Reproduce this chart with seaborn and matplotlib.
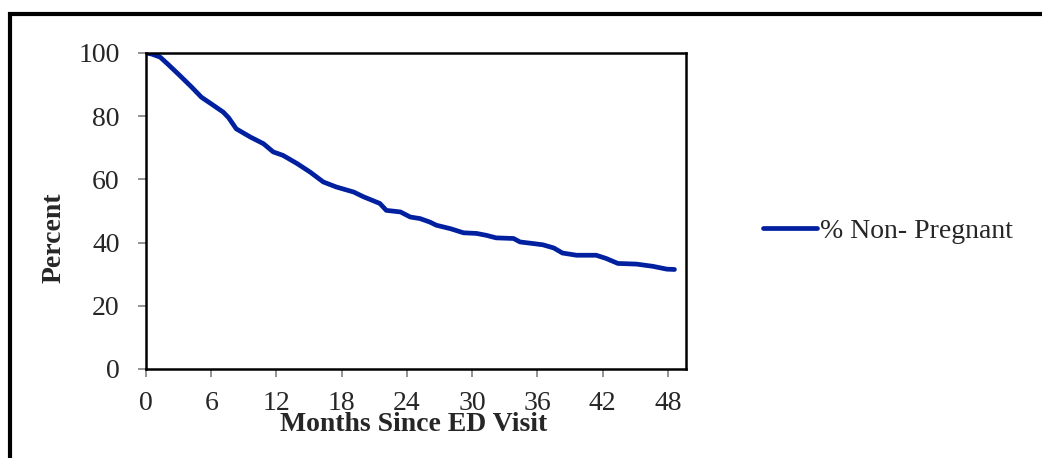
import matplotlib
matplotlib.use("Agg")
import matplotlib.pyplot as plt
import matplotlib.lines as mlines
import seaborn as sns
import pandas as pd

months = [0, 0.5, 1.3, 2, 3.1, 4.2, 5.1, 6.0, 7.1, 7.6, 8.3, 9.6, 10.8, 11.7, 12.6,
          13.9, 15.1, 16.3, 17.5, 19.1, 20.0, 21.5, 22.1, 23.4, 24.3, 25.2, 26.1,
          26.7, 28.0, 29.2, 30.4, 31.3, 32.2, 33.8, 34.4, 35.6, 36.5, 37.5, 38.3,
          39.6, 41.4, 42.3, 43.4, 45.1, 46.6, 47.9, 48.6]
percent = [100, 99.7, 98.7, 96.5, 92.9, 89.2, 86.0, 83.9, 81.3, 79.5, 76.0, 73.4,
           71.3, 68.7, 67.6, 65.0, 62.3, 59.2, 57.6, 56.0, 54.5, 52.4, 50.2, 49.7,
           48.1, 47.6, 46.5, 45.5, 44.4, 43.1, 42.9, 42.3, 41.5, 41.3, 40.2, 39.7,
           39.3, 38.3, 36.7, 36.0, 36.0, 35.0, 33.4, 33.2, 32.5, 31.6, 31.5]
x_ticks = [0, 6, 12, 18, 24, 30, 36, 42, 48]
y_ticks = [0, 20, 40, 60, 80, 100]
series_label = "% Non- Pregnant"
x_label = "Months Since ED Visit"
y_label = "Percent"

sns.set_style("white")
plt.rcParams["font.family"] = ["Liberation Serif", "DejaVu Serif"]

df = pd.DataFrame({"month": months, "pct": percent})

fig = plt.figure(figsize=(10.42, 4.58), dpi=100)
ax = fig.add_axes([146/1042, 1-369/458, (686-146)/1042, (369-53)/458])
color = "#0020A0"
sns.lineplot(data=df, x="month", y="pct", sort=False, ax=ax, color=color,
             linewidth=3.4, solid_capstyle="round", solid_joinstyle="round")

ax.set_xlim(0, 49.66)
ax.set_ylim(0, 100)
ax.set_xticks(x_ticks)
ax.set_yticks(y_ticks)
ax.tick_params(axis="both", direction="out", length=6, width=1.2, color="#808080",
               labelsize=20, bottom=True, left=True)
ax.tick_params(axis="x", pad=10)
ax.tick_params(axis="y", pad=13)
for s in ax.spines.values():
    s.set_visible(True)
    s.set_color("black")
    s.set_linewidth(1.8)

ax.set_xlabel(x_label, fontsize=20, fontweight="bold")
ax.xaxis.set_label_coords(0.496, -0.136)
ax.set_ylabel(y_label, fontsize=20, fontweight="bold")
ax.yaxis.set_label_coords(-0.148, 0.415)

handle = mlines.Line2D([], [], color=color, linewidth=3.4, solid_capstyle="round")
fig.legend([handle], [series_label], loc="center left",
           bbox_to_anchor=(763/1042, 1-231/458), frameon=False, fontsize=20,
           handlelength=1.95, handletextpad=0.12, borderaxespad=0, borderpad=0)

# outer frame (left and top edges)
fig.add_artist(mlines.Line2D([9.5/1042, 9.5/1042, 1.0], [0, 1-13.5/458, 1-13.5/458],
                             color="black", linewidth=3, solid_joinstyle="miter",
                             transform=fig.transFigure))

fig.savefig("out.png", dpi=100)
